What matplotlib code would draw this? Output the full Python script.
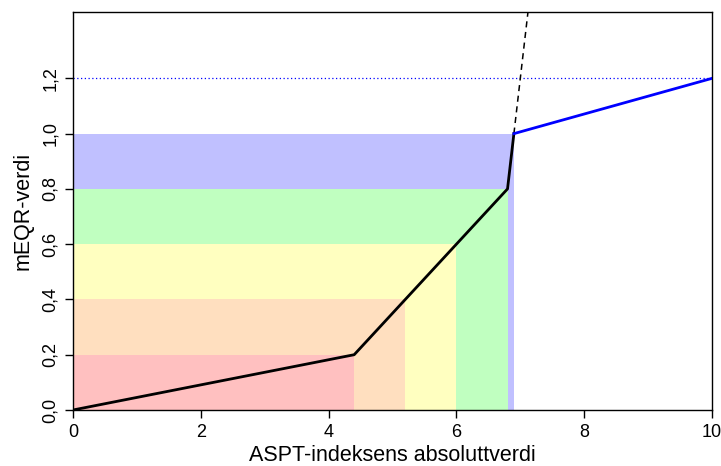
import matplotlib
matplotlib.use("Agg")
import matplotlib.pyplot as plt

plt.rcParams['font.family'] = ['Liberation Sans', 'DejaVu Sans']

# class bands: upper ASPT bound and upper mEQR value (each band starts at 0)
band_x_end = [6.9, 6.8, 6.0, 5.2, 4.4]
band_y_high = [1.0, 0.8, 0.6, 0.4, 0.2]
band_colors = ['#C0C0FF', '#C0FFC0', '#FFFFC0', '#FFDFBF', '#FFC0C0']

# piecewise mEQR curve
curve_x = [0, 4.4, 6.8, 6.9]
curve_y = [0, 0.2, 0.8, 1.0]
ext_x = [6.9, 7.3]
ext_y = [1.0, 1.8]
blue_x = [6.9, 10]
blue_y = [1.0, 1.2]
ref_level = 1.2

fig = plt.figure(figsize=(7.21, 4.66), dpi=100)
ax = fig.add_axes([0.1013, 0.1202, 0.8862, 0.854])

# draw widest band first, narrower ones on top
for xe, yh, c in zip(band_x_end, band_y_high, band_colors):
    ax.fill_between([0, xe], 0, yh, color=c, linewidth=0, zorder=1)

ax.axhline(ref_level, color='blue', linestyle=(0, (1, 2)), linewidth=0.9, zorder=2)
ax.plot(ext_x, ext_y, color='black', linestyle=(0, (4, 3)), linewidth=1.1, zorder=3)
ax.plot(curve_x, curve_y, color='black', linewidth=2.0, zorder=4)
ax.plot(blue_x, blue_y, color='blue', linewidth=2.0, zorder=4)

ax.set_xlim(0, 10)
ax.set_ylim(0, 1.44)
ax.set_xticks([0, 2, 4, 6, 8, 10])
ax.set_yticks([0.0, 0.2, 0.4, 0.6, 0.8, 1.0, 1.2])
ax.set_yticklabels(['0,0', '0,2', '0,4', '0,6', '0,8', '1,0', '1,2'],
                   rotation=90, va='center')
ax.tick_params(direction='out', length=6, width=1, labelsize=13, pad=4)
for s in ax.spines.values():
    s.set_linewidth(1)

ax.set_xlabel('ASPT-indeksens absoluttverdi', fontsize=15.5, labelpad=3)
ax.set_ylabel('mEQR-verdi', fontsize=15.5, labelpad=6)

fig.savefig('out.png', dpi=100)
